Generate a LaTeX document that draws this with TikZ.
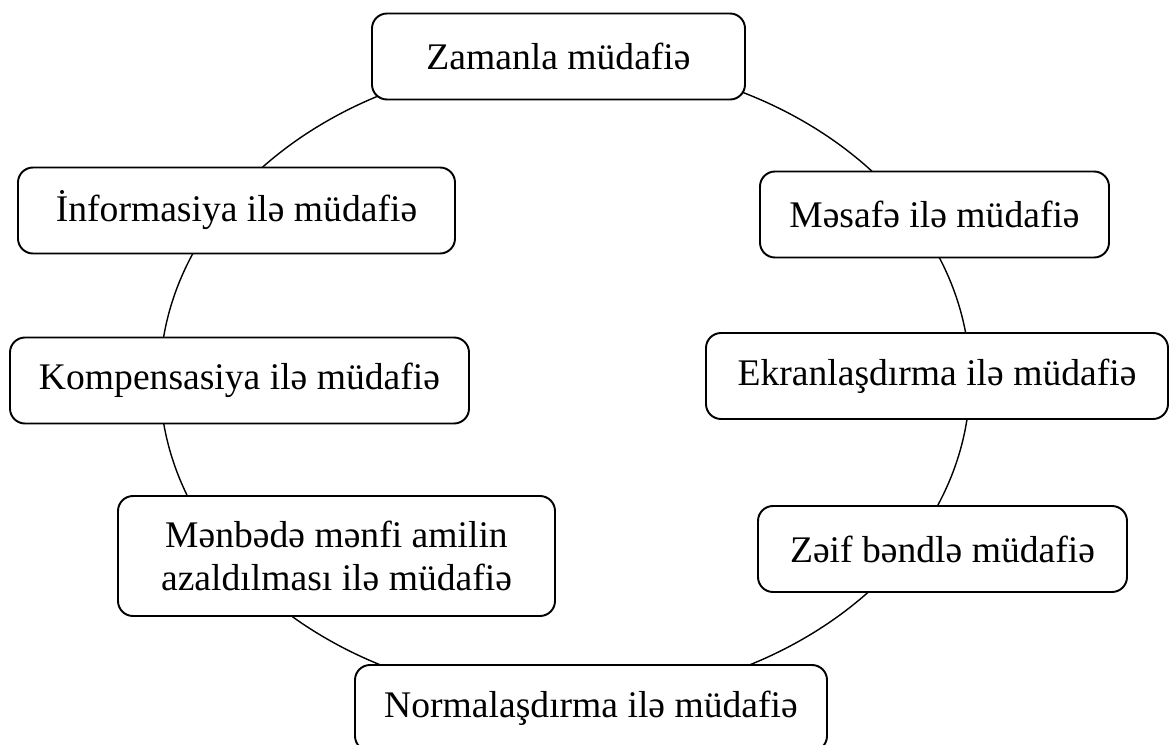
\documentclass[tikz,border=0pt]{standalone}
\usepackage{fontspec}
\setmainfont{Liberation Serif}
\usepackage{tikz}
\usetikzlibrary{positioning}

\begin{document}
\begin{tikzpicture}[
    box/.style={draw, line width=1.1pt, rounded corners=0.3cm, fill=white,
      minimum height=1.72cm, align=center, inner sep=0pt,
      font=\fontsize{21.4}{24.4}\selectfont},
    ring/.style={line width=0.8pt}]
  \useasboundingbox (0,0) rectangle (23.4,14.88);
  % ellips arxada, qutular onun ustunde
  \coordinate (c) at (11.30,7.28);
  \draw[ring] (c) ellipse [x radius=8.1, y radius=6.4];
  \node[box, minimum width=7.46cm] (zaman) at (11.17,13.75) {Zamanla müdafiə};
  \node[box, minimum width=8.74cm] (info) at (4.73,10.67) {İnformasiya ilə müdafiə};
  \node[box, minimum width=6.98cm] (mesafe) at (18.69,10.59) {Məsafə ilə müdafiə};
  \node[box, minimum width=9.18cm] (komp) at (4.79,7.27) {Kompensasiya ilə müdafiə};
  \node[box, minimum width=9.24cm] (ekran) at (18.74,7.36) {Ekranlaşdırma ilə müdafiə};
  \node[box, minimum width=8.74cm, minimum height=2.4cm] (menbe) at (6.73,3.76)
    {Mənbədə mənfi amilin\\azaldılması ilə müdafiə};
  \node[box, minimum width=7.38cm] (zeif) at (18.85,3.90) {Zəif bəndlə müdafiə};
  \node[box, minimum width=9.44cm] (norm) at (11.82,0.72) {Normalaşdırma ilə müdafiə};
\end{tikzpicture}
\end{document}
